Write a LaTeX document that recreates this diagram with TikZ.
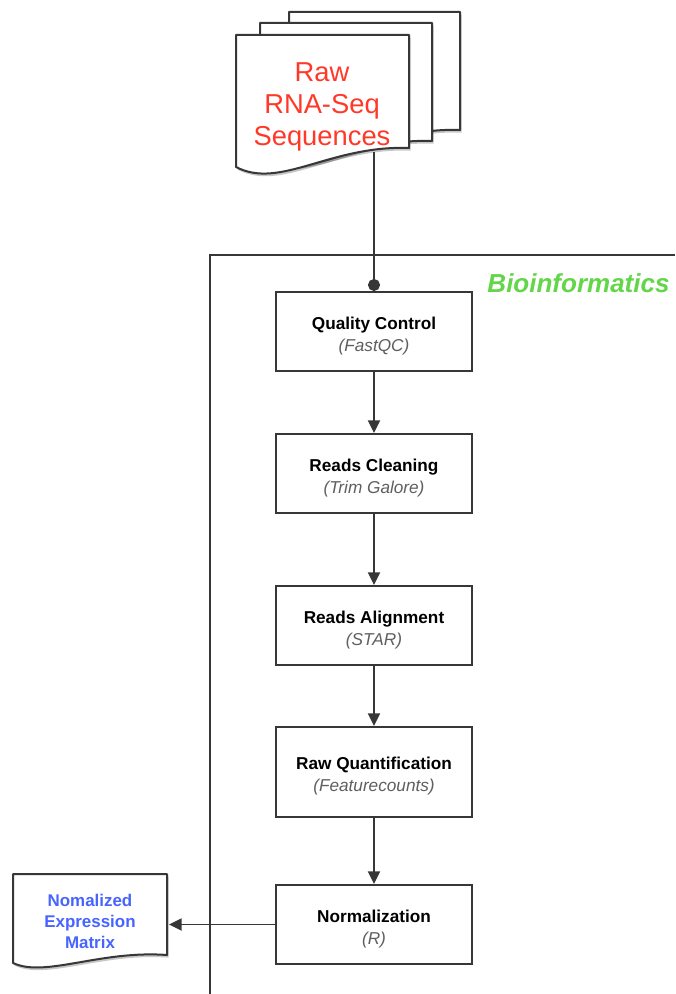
\documentclass[tikz,border=0pt]{standalone}
\usepackage{fontspec}
\setmainfont{Liberation Sans}
\usetikzlibrary{arrows.meta}
\definecolor{rawred}{RGB}{255,56,40}
\definecolor{biogreen}{RGB}{98,214,72}
\definecolor{matblue}{RGB}{72,100,255}
\definecolor{edgegray}{RGB}{55,55,55}
\definecolor{subgray}{RGB}{95,95,95}
\newcommand\boxtxt[2]{\rule{0pt}{15.5pt}\textbf{#1}\\\textcolor{subgray}{\itshape #2}}
\begin{document}
\begin{tikzpicture}[x=0.75pt,y=-0.75pt,
  docline/.style={draw=edgegray,line width=1.5pt,fill=white,line join=round,
    preaction={fill=black,opacity=0.22,transform canvas={shift={(1.2pt,-2pt)}}}},
  frameline/.style={draw=edgegray,line width=1.2pt},
  stepbox/.style={draw=edgegray,line width=1.5pt,fill=white,minimum width=147pt,
    minimum height=59.25pt,align=center,inner sep=0pt,font=\fontsize{12.9}{16.5}\selectfont},
  conn/.style={draw=edgegray,line width=1.4pt},
  tri/.style={-{Triangle[length=9.5pt,width=9pt]}},
  dot/.style={-{Circle[length=9pt]}}
]
\useasboundingbox (0,0) rectangle (675,994);

% Bioinformatics frame
\draw[frameline] (675,255) -- (210,255) -- (210,994);
\node[text=biogreen,font=\fontsize{19.5}{22}\selectfont\bfseries\itshape,inner sep=0pt]
  (biolabel) at (578.5,283) {Bioinformatics};

% stacked raw documents
\path[docline] (289,12) -- (460,12) -- (460,130) .. controls (382,127) and (333,172) .. (289,149) -- cycle;
\path[docline] (260,23) -- (432,23) -- (432,141) .. controls (354,138) and (304,183) .. (260,160) -- cycle;
\path[docline] (236,35) -- (409,35) -- (409,148) .. controls (330,145) and (280,190) .. (236,167) -- cycle;
\node[text=rawred,align=center,inner sep=0pt,font=\fontsize{20.5}{24}\selectfont]
  (rawtext) at (322,107) {Raw\\RNA-Seq\\Sequences};
\coordinate (rawbot) at (374,152);

% pipeline boxes
\node[stepbox] (qc) at (374,331.5) {\boxtxt{Quality Control}{(FastQC)}};
\node[stepbox] (rc) at (374,473.5) {\boxtxt{Reads Cleaning}{(Trim Galore)}};
\node[stepbox] (ra) at (374,625.5) {\boxtxt{Reads Alignment}{(STAR)}};
\node[stepbox,minimum height=67.5pt] (rq) at (374,772) {\boxtxt{Raw Quantification}{(Featurecounts)}};
\node[stepbox] (nm) at (374,924.5) {\boxtxt{Normalization}{(R)}};

% output document
\path[docline] (13,874) -- (167,874) -- (167,955) .. controls (100,950) and (45,978) .. (13,963) -- cycle;
\node[text=matblue,align=center,inner sep=0pt,font=\fontsize{12.7}{15.75}\selectfont\bfseries]
  (mattext) at (90,921) {Nomalized\\Expression\\Matrix};
\coordinate (matin) at (169,924.5);

% connectors
\draw[conn,dot] (rawbot) -- (qc);
\draw[conn,tri] (qc) -- (rc);
\draw[conn,tri] (rc) -- (ra);
\draw[conn,tri] (ra) -- (rq);
\draw[conn,tri] (rq) -- (nm);
\draw[conn,tri] (nm) -- (matin);
\end{tikzpicture}
\end{document}
